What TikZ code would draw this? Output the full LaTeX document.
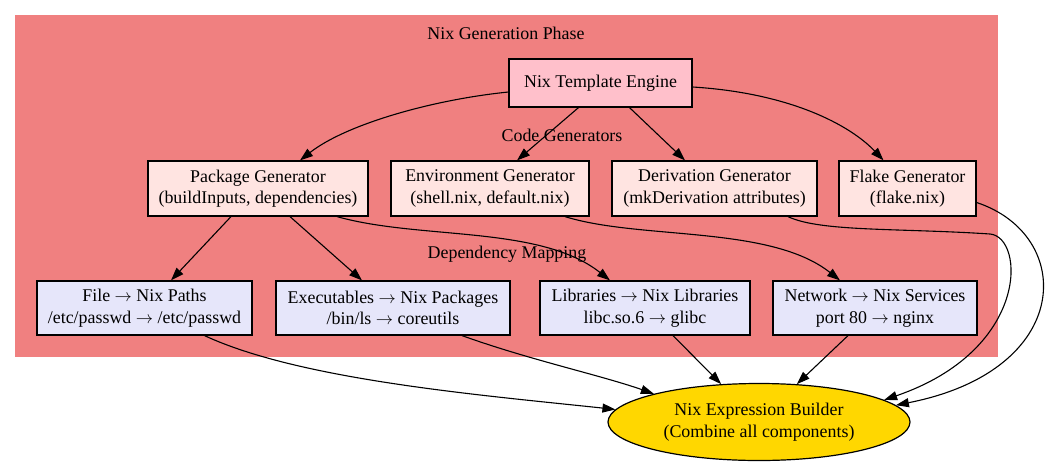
\documentclass[tikz,border=0pt]{standalone}
\usepackage{fontspec}
\setmainfont{Liberation Serif}
\usetikzlibrary{arrows.meta,shapes.geometric}
\definecolor{clcoral}{HTML}{F08080}
\definecolor{cpink}{HTML}{FFC0CB}
\definecolor{cmisty}{HTML}{FFE4E1}
\definecolor{clav}{HTML}{E6E6FA}
\definecolor{cgold}{HTML}{FFD700}
\newcommand{\myarr}{\ensuremath{\rightarrow}}
\begin{document}
\begin{tikzpicture}[x=1pt,y=-1pt,
  font=\fontsize{17.9}{21.5}\selectfont,
  gbox/.style={draw=black, line width=1.2pt, rectangle, inner sep=0pt, align=center},
  gen/.style={gbox, fill=cmisty, minimum height=55pt},
  dep/.style={gbox, fill=clav, minimum height=54pt},
  edge/.style={draw=black, line width=1.1pt, -{Triangle[length=13pt,width=9pt]}},
  lbl/.style={inner sep=0pt}]
\useasboundingbox (0,0) rectangle (1060,466);
\fill[clcoral] (15,15) rectangle (998,357);
\node[lbl] (tphase) at (506,33) {Nix Generation Phase};
\node[lbl] (tcode) at (562,135) {Code Generators};
\node[lbl] (tdep) at (507,254) {Dependency Mapping};
\node[gbox, fill=cpink, minimum width=183pt, minimum height=48pt] (eng) at (600.5,83) {Nix Template Engine};
\node[gen, minimum width=220pt] (pkg) at (258,188.5) {Package Generator\\(buildInputs, dependencies)};
\node[gen, minimum width=198pt] (env) at (490,188.5) {Environment Generator\\(shell.nix, default.nix)};
\node[gen, minimum width=205pt] (der) at (714.5,188.5) {Derivation Generator\\(mkDerivation attributes)};
\node[gen, minimum width=137pt] (flk) at (907.5,188.5) {Flake Generator\\(flake.nix)};
\node[dep, minimum width=215pt] (file) at (144.5,308) {File \myarr{} Nix Paths\\/etc/passwd \myarr{} /etc/passwd};
\node[dep, minimum width=234pt] (exec) at (393,308) {Executables \myarr{} Nix Packages\\/bin/ls \myarr{} coreutils};
\node[dep, minimum width=210pt] (lib) at (645,308) {Libraries \myarr{} Nix Libraries\\libc.so.6 \myarr{} glibc};
\node[dep, minimum width=204pt] (net) at (875,308) {Network \myarr{} Nix Services\\port 80 \myarr{} nginx};
\node[ellipse, draw=black, line width=1.2pt, fill=cgold, inner sep=0pt, align=center,
  minimum width=302pt, minimum height=77pt] (bld) at (759,422) {Nix Expression Builder\\(Combine all components)};
\draw[edge] ([yshift=-9pt]eng.west) .. controls (430,100) and (345,125) .. ([xshift=42pt]pkg.north);
\draw[edge] ([xshift=-22pt]eng.south) -- ([xshift=27pt]env.north);
\draw[edge] ([xshift=29pt]eng.south) -- ([xshift=-29.5pt]der.north);
\draw[edge] ([yshift=-4pt]eng.east) .. controls (790,93) and (850,125) .. ([xshift=-24pt]flk.north);
\draw[edge] ([xshift=-27pt]pkg.south) -- ([xshift=26.5pt]file.north);
\draw[edge] ([xshift=32pt]pkg.south) -- ([xshift=-31pt]exec.north);
\draw[edge] ([xshift=79pt]pkg.south) .. controls (420,240) and (540,225) .. ([xshift=-35pt]lib.north);
\draw[edge] ([xshift=75pt]env.south) .. controls (640,240) and (770,225) .. ([xshift=-35pt]net.north);
\draw[edge] ([xshift=73.5pt]der.south) .. controls (820,232) and (900,228) .. (990,234) .. controls (1025,237) and (1030,350) .. (bld.10);
\draw[edge] ([yshift=-14pt]flk.east) .. controls (1075,235) and (1075,370) .. (bld.7);
\draw[edge] ([xshift=60pt]file.south) .. controls (300,380) and (480,395) .. (bld.175);
\draw[edge] ([xshift=69pt]exec.south) .. controls (530,360) and (600,375) .. (bld.165);
\draw[edge] ([xshift=28pt]lib.south) -- (bld.135);
\draw[edge] ([xshift=-27pt]net.south) -- (bld.45);
\end{tikzpicture}
\end{document}
